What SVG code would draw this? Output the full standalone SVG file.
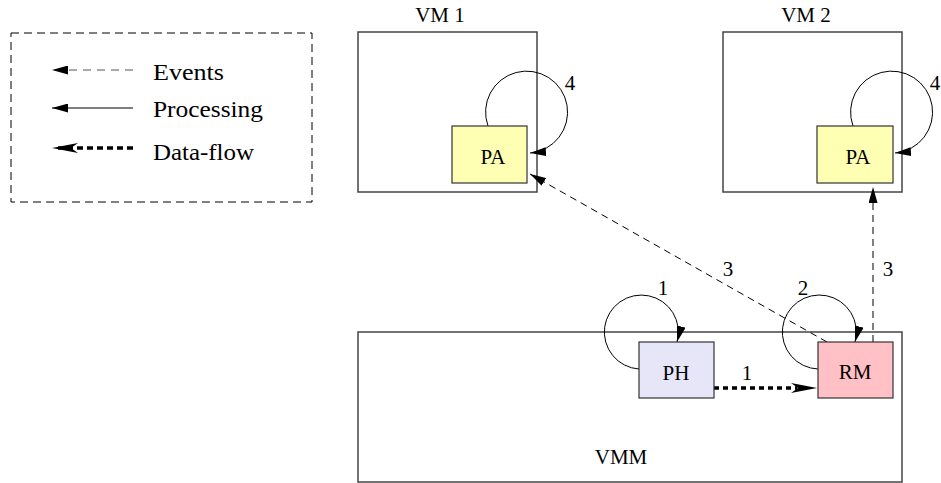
<svg xmlns="http://www.w3.org/2000/svg" width="941" height="483" viewBox="0 0 941 483">
  <style>
    text { font-family: "Liberation Serif", "DejaVu Serif", "Times New Roman", serif; fill: #000; }
    .t { font-size: 21px; }
    .lg { font-size: 24px; }
    .vm { fill: #fff; stroke: #444; stroke-width: 1.5; }
    .box { stroke: #333; stroke-width: 1.2; }
    .ev { fill: none; stroke: #000; stroke-width: 1; stroke-dasharray: 7 5; }
    .pr { fill: none; stroke: #000; stroke-width: 1; }
    .df { fill: none; stroke: #000; stroke-width: 3.5; stroke-dasharray: 5 4; }
  </style>
  <defs>
    <marker id="tri" markerUnits="userSpaceOnUse" markerWidth="16" markerHeight="9" viewBox="0 0 16 9" refX="16" refY="4.5" orient="auto">
      <path d="M0,0 L16,4.5 L0,9 z" fill="#000"/>
    </marker>
    <marker id="barb" markerUnits="userSpaceOnUse" markerWidth="26" markerHeight="10" viewBox="0 0 26 10" refX="26" refY="5" orient="auto">
      <path d="M0,0 L26,5 L0,10 L7,5 z" fill="#000"/>
    </marker>
  </defs>

  <g id="legend">
    <rect x="11" y="33" width="301" height="169" fill="none" stroke="#000" stroke-width="1" stroke-dasharray="8 5"/>
    <path d="M133,70 L52,70" fill="none" stroke="#555" stroke-width="1" stroke-dasharray="8 6" marker-end="url(#tri)"/>
    <path d="M133,108 L52,108" class="pr" marker-end="url(#tri)"/>
    <path d="M133,148 L58,148" fill="none" stroke="#000" stroke-width="3.5" stroke-dasharray="6 4"/>
    <path d="M60,148 L52,148" fill="none" stroke="none" marker-end="url(#barb)"/>
    <text class="lg" font-family="Liberation Serif, serif" x="153" y="80" textLength="71" lengthAdjust="spacingAndGlyphs">Events</text>
    <text class="lg" font-family="Liberation Serif, serif" x="153" y="117" textLength="110" lengthAdjust="spacingAndGlyphs">Processing</text>
    <text class="lg" font-family="Liberation Serif, serif" x="153" y="160" textLength="101" lengthAdjust="spacingAndGlyphs">Data-flow</text>
  </g>

  <g id="vm1">
    <rect class="vm" x="358" y="32" width="179" height="160"/>
    <text class="t" x="440" y="22" text-anchor="middle">VM 1</text>
  </g>
  <g id="vm2">
    <rect class="vm" x="723" y="32" width="179" height="160"/>
    <text class="t" x="806" y="22" text-anchor="middle">VM 2</text>
  </g>
  <g id="vmm">
    <rect class="vm" x="358" y="332" width="544" height="150"/>
    <text class="t" x="621" y="464" text-anchor="middle">VMM</text>
  </g>

  <g id="connectors">
    <path class="pr" d="M488,126 A41,41 0 1 1 530,153" marker-end="url(#tri)"/>
    <path class="pr" d="M853,126 A41,41 0 1 1 895,153" marker-end="url(#tri)"/>
    <path class="pr" d="M639,369 A37,37 0 1 1 677,342" marker-end="url(#tri)"/>
    <path class="pr" d="M818,369 A37,37 0 1 1 855,342" marker-end="url(#tri)"/>
    <path class="ev" d="M827,342 L530,174" marker-end="url(#tri)"/>
    <path class="ev" d="M873,342 L873,187" marker-end="url(#tri)"/>
    <path class="df" d="M714,388 L797,388"/>
    <path d="M810,388 L817,388" fill="none" stroke="none" marker-end="url(#barb)"/>
    <text class="t" x="570" y="90" text-anchor="middle">4</text>
    <text class="t" x="935" y="90" text-anchor="middle">4</text>
    <text class="t" x="663" y="295" text-anchor="middle">1</text>
    <text class="t" x="803" y="295" text-anchor="middle">2</text>
    <text class="t" x="728" y="276" text-anchor="middle">3</text>
    <text class="t" x="888" y="276" text-anchor="middle">3</text>
    <text class="t" x="747" y="380" text-anchor="middle">1</text>
  </g>

  <g id="pa1">
    <rect class="box" x="452" y="126" width="75" height="57" fill="#ffffb3"/>
    <text class="t" x="493" y="164" text-anchor="middle">PA</text>
  </g>
  <g id="pa2">
    <rect class="box" x="817" y="126" width="76" height="57" fill="#ffffb3"/>
    <text class="t" x="858" y="164" text-anchor="middle">PA</text>
  </g>
  <g id="ph">
    <rect class="box" x="639" y="342" width="75" height="56" fill="#e6e6f8"/>
    <text class="t" x="676" y="380" text-anchor="middle">PH</text>
  </g>
  <g id="rm">
    <rect class="box" x="818" y="342" width="75" height="56" fill="#ffc0c6"/>
    <text class="t" x="855" y="379" text-anchor="middle">RM</text>
  </g>
</svg>
